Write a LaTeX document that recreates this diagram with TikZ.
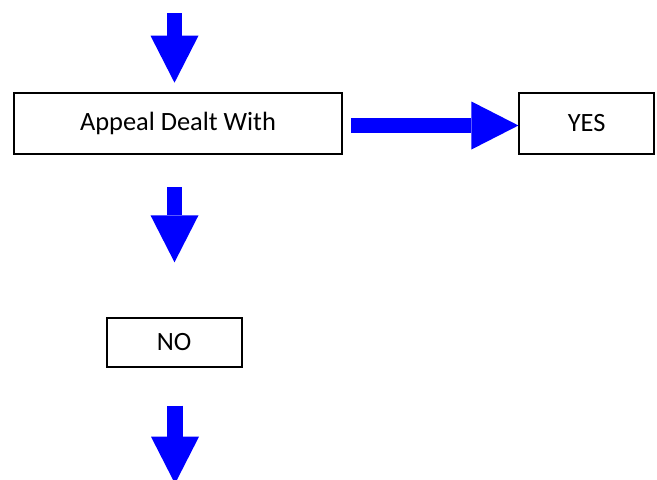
\documentclass[tikz,border=0pt]{standalone}
\usepackage{fontspec}
\setmainfont{Carlito}
\usetikzlibrary{arrows.meta}
\begin{document}
\begin{tikzpicture}[x=0.75pt, y=-0.75pt, box node/.style={rectangle,draw,line width=1.4pt,inner sep=0pt,font=\fontsize{19.8}{23}\selectfont}, block arrow/.style={color=blue,line width=11.7pt,-{Triangle[width=36pt,length=35.25pt,line width=0pt]}}]
                \useasboundingbox (0,0) rectangle (657,479);
                \node[box node, minimum width=245.5pt, minimum height=46.2pt] at (178, 123.5) (appeal) {Appeal Dealt With};
                \node[box node, minimum width=101pt, minimum height=46.2pt] at (586.7, 123.5) (yes) {YES};
                \node[box node, minimum width=101.25pt, minimum height=36.75pt] at (174.2, 342.2) (no) {NO};

                \coordinate (in top) at (174.5, 13);
                \coordinate (in end) at (174.5, 82.7);
                \coordinate (no top) at (174.5, 187.3);
                \coordinate (no end) at (174.5, 262.3);
                \coordinate (out top) at (175, 405.7);
                \coordinate (out end) at (175, 483.7);

            \draw[block arrow] (in top) -- (in end);
            \draw[block arrow] ([xshift=6.2pt,yshift=-1.5pt]appeal.east) -- ([yshift=-1.5pt]yes.west);
            \draw[block arrow] (no top) -- (no end);
            \draw[block arrow] (out top) -- (out end);

            \end{tikzpicture}
\end{document}
